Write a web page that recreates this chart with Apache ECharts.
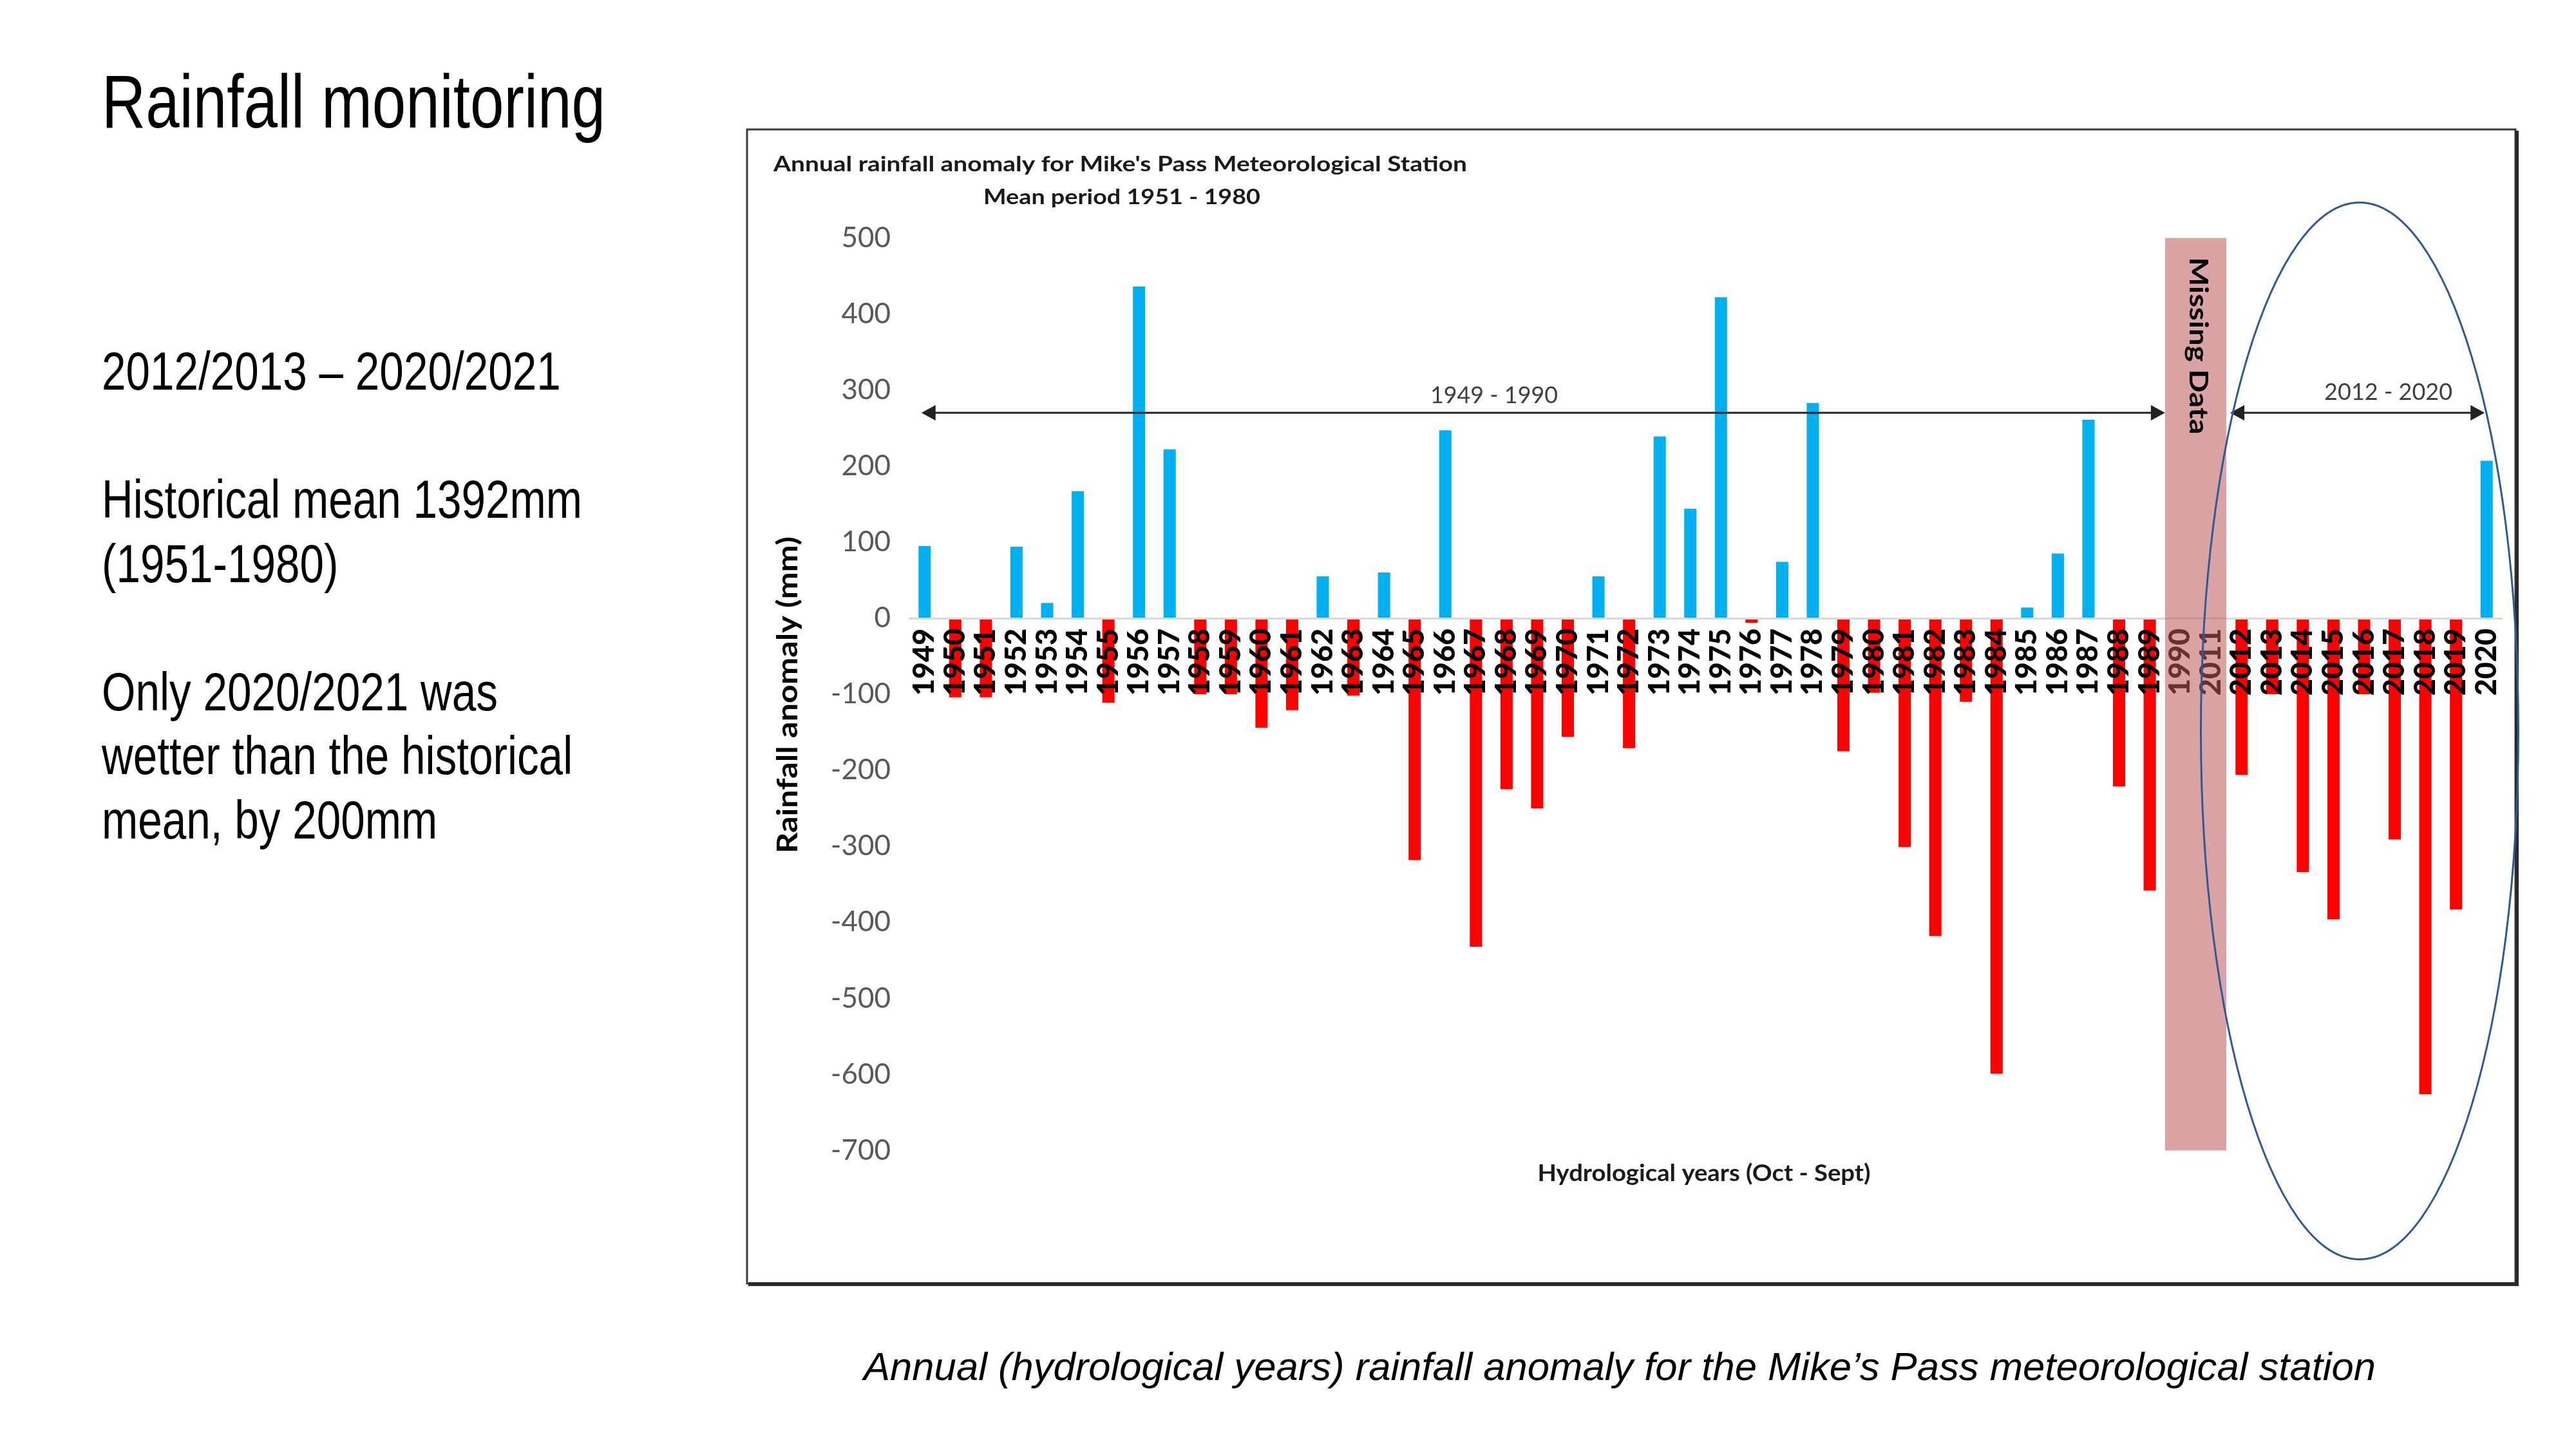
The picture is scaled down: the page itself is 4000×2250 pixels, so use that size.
<!DOCTYPE html>
<html>
<head>
<meta charset="utf-8">
<script src="https://cdn.jsdelivr.net/npm/echarts@6/dist/echarts.min.js"></script>
<style>
  html, body { margin: 0; padding: 0; background: #ffffff; }
  #c { width: 4000px; height: 2250px; }
</style>
</head>
<body>
<div id="c"></div>
<script>
// ---------------- DATA ----------------
const years = ['1949','1950','1951','1952','1953','1954','1955','1956','1957','1958',
  '1959','1960','1961','1962','1963','1964','1965','1966','1967','1968',
  '1969','1970','1971','1972','1973','1974','1975','1976','1977','1978',
  '1979','1980','1981','1982','1983','1984','1985','1986','1987','1988',
  '1989','1990','2011','2012','2013','2014','2015','2016','2017','2018',
  '2019','2020'];
const anomaly = [95,-104,-104,94,20,167,-111,436,222,-100,
  -100,-144,-121,55,-102,60,-318,247,-432,-225,
  -250,-156,55,-171,239,144,422,-6,74,283,
  -175,-98,-301,-418,-110,-599,14,85,261,-221,
  -358,null,null,-206,-100,-334,-396,-100,-291,-626,
  -383,207];
const yTickMin = -700, yTickMax = 500, yTickStep = 100;
const missingRange = ['1990', '2011'];
const missingValueRange = [500, -700];
const missingLabel = 'Missing Data';
const periodLevel = 270;
const periodLabels = ['1949 - 1990', '2012 - 2020'];
const chartTitle = "Annual rainfall anomaly for Mike's Pass Meteorological Station";
const chartSubtitle = 'Mean period 1951 - 1980';
const yAxisName = 'Rainfall anomaly (mm)';
const xAxisName = 'Hydrological years (Oct - Sept)';
const slideTitle = 'Rainfall monitoring';
const slideNotes = ['2012/2013 \u2013 2020/2021', '', 'Historical mean 1392mm', '(1951-1980)', '',
  'Only 2020/2021 was', 'wetter than the historical', 'mean, by 200mm'];
const caption = 'Annual (hydrological years) rainfall anomaly for the Mike\u2019s Pass meteorological station';

// ---------------- HELPERS ----------------
const mctx = document.createElement('canvas').getContext('2d');
function measure(text, size, family, weight, style) {
  mctx.font = (style || 'normal') + ' ' + (weight || 'normal') + ' ' + size + 'px ' + family;
  return mctx.measureText(text).width;
}
function txt(o) {
  const w = measure(o.text, o.size, o.family, o.weight, o.style);
  const sx = o.width ? o.width / w : 1;
  return {
    type: 'text', x: o.x, y: o.y, rotation: o.rotation || 0, scaleX: sx, scaleY: 1,
    z: o.z || 20, silent: true,
    style: {
      text: o.text, fontSize: o.size, fontFamily: o.family, fontWeight: o.weight || 'normal',
      fontStyle: o.style || 'normal', fill: o.fill || '#000',
      align: o.align || 'left', textAlign: o.align || 'left',
      verticalAlign: 'middle', textVerticalAlign: 'middle'
    }
  };
}

const SLIDE_FONT = '"Liberation Sans", Arial, sans-serif';
const CHART_FONT = 'Lato, "Open Sans", sans-serif';
const GRID = { left: 1412, right: 115, top: 369.5, bottom: 463.5 };

const chart = echarts.init(document.getElementById('c'), null, { renderer: 'canvas', width: 4000, height: 2250 });
chart.setOption({
  animation: false,
  backgroundColor: '#ffffff',
  grid: { left: GRID.left, right: GRID.right, top: GRID.top, bottom: GRID.bottom, containLabel: false },
  xAxis: {
    type: 'category', data: years, z: 5, position: 'bottom', offset: 0,
    axisTick: { show: false },
    axisLine: { show: true, onZero: false, lineStyle: { color: '#D9D9D9', width: 3 } },
    axisLabel: { interval: 0, rotate: 90, margin: 16, color: '#000000', fontFamily: CHART_FONT, fontWeight: 900, fontSize: 45 },
    splitLine: { show: false }
  },
  yAxis: {
    type: 'value', min: yTickMin, max: yTickMax, interval: yTickStep,
    axisLine: { show: false }, axisTick: { show: false }, splitLine: { show: false },
    axisLabel: { margin: 29, color: '#595959', fontFamily: CHART_FONT, fontSize: 44 }
  },
  series: [{
    type: 'bar', data: anomaly, barWidth: '40%', z: 2,
    itemStyle: { color: function (p) { return p.value >= 0 ? '#00B0F0' : '#FF0000'; } },
    markArea: {
      silent: true, z: 10,
      itemStyle: { color: 'rgba(190,88,88,0.55)' },
      data: [[{ xAxis: missingRange[0], yAxis: missingValueRange[0] }, { xAxis: missingRange[1], yAxis: missingValueRange[1] }]]
    }
  }]
});

// ---------------- ANNOTATIONS ----------------
const toPx = (cat, val) => chart.convertToPixel({ seriesIndex: 0 }, [cat, val]);
// move the category axis (line + labels) onto the zero line
const zeroY = toPx(years[0], 0)[1];
const bottomY = toPx(years[0], yTickMin)[1];
chart.setOption({ xAxis: { offset: -(bottomY - zeroY) } });

const halfBand = (toPx(years[1], 0)[0] - toPx(years[0], 0)[0]) / 2;
const arrowY = toPx(years[0], periodLevel)[1];

const g = [];
// chart frame
g.push({ type: 'rect', z: 1, silent: true, shape: { x: 1160, y: 201, width: 2746, height: 1792 },
  style: { fill: null, stroke: '#3a3a3a', lineWidth: 3 } });
g.push({ type: 'polyline', z: 1, silent: true, shape: { points: [[1162, 1994], [3908, 1994], [3908, 203]] },
  style: { fill: null, stroke: '#2b2b2b', lineWidth: 6 } });

// slide title and notes
g.push(txt({ text: slideTitle, x: 158, y: 203 - 0.32 * 117, size: 117, family: SLIDE_FONT, width: 782 }));
const noteSize = 83;
const noteScale = 746 / measure('Historical mean 1392mm', noteSize, SLIDE_FONT);
slideNotes.forEach(function (line, i) {
  if (!line) return;
  const w = measure(line, noteSize, SLIDE_FONT) * noteScale;
  g.push(txt({ text: line, x: 158, y: 609 + i * 99.5 - 0.32 * noteSize, size: noteSize, family: SLIDE_FONT, width: w }));
});
g.push(txt({ text: caption, x: 2515, y: 2146 - 0.32 * 62, size: 62, family: SLIDE_FONT, style: 'italic', width: 2348, align: 'center' }));

// chart titles
g.push(txt({ text: chartTitle, x: 1201, y: 266 - 0.32 * 32, size: 32, family: CHART_FONT, weight: 'bold', width: 1077, fill: '#1a1a1a' }));
g.push(txt({ text: chartSubtitle, x: 1742, y: 317 - 0.32 * 32, size: 32, family: CHART_FONT, weight: 'bold', width: 430, align: 'center', fill: '#1a1a1a' }));
// axis names
g.push(txt({ text: yAxisName, x: 1224, y: 1079, size: 44, family: CHART_FONT, weight: 'bold', width: 492, align: 'center', rotation: Math.PI / 2 }));
g.push(txt({ text: xAxisName, x: 2646, y: 1822, size: 36, family: CHART_FONT, weight: 'bold', width: 517, align: 'center', fill: '#1a1a1a' }));

// missing data label
const mx = (toPx(missingRange[0], 0)[0] + toPx(missingRange[1], 0)[0]) / 2;
g.push(txt({ text: missingLabel, x: mx + 3, y: 537, size: 40, family: CHART_FONT, weight: 'bold', width: 275, align: 'center', rotation: -Math.PI / 2, z: 30 }));

// period arrows
function arrow(x1, x2, y) {
  const hl = 22, hw = 12, col = '#222222';
  g.push({ type: 'line', z: 25, silent: true, shape: { x1: x1 + hl - 2, y1: y, x2: x2 - hl + 2, y2: y }, style: { stroke: col, lineWidth: 3 } });
  g.push({ type: 'polygon', z: 25, silent: true, shape: { points: [[x1, y], [x1 + hl, y - hw], [x1 + hl, y + hw]] }, style: { fill: col } });
  g.push({ type: 'polygon', z: 25, silent: true, shape: { points: [[x2, y], [x2 - hl, y - hw], [x2 - hl, y + hw]] }, style: { fill: col } });
}
const a1 = toPx(years[0], 0)[0] - 5;
const a2 = toPx(missingRange[0], 0)[0] - halfBand;
const b1 = toPx(missingRange[1], 0)[0] + halfBand + 6;
const b2 = toPx(years[years.length - 1], 0)[0] - 3;
arrow(a1, a2, arrowY);
arrow(b1, b2, arrowY);
g.push(txt({ text: periodLabels[0], x: 2320, y: arrowY - 27, size: 36, family: CHART_FONT, width: 198, align: 'center', fill: '#404040' }));
g.push(txt({ text: periodLabels[1], x: (b1 + b2) / 2 + 48, y: arrowY - 32, size: 36, family: CHART_FONT, width: 199, align: 'center', fill: '#404040' }));

// highlight ellipse
g.push({ type: 'ellipse', z: 40, silent: true, shape: { cx: 3664, cy: 1135, rx: 246.5, ry: 820.5 },
  style: { fill: null, stroke: '#2E5A96', lineWidth: 3 } });

chart.setOption({ graphic: { elements: g } });
</script>
</body>
</html>
